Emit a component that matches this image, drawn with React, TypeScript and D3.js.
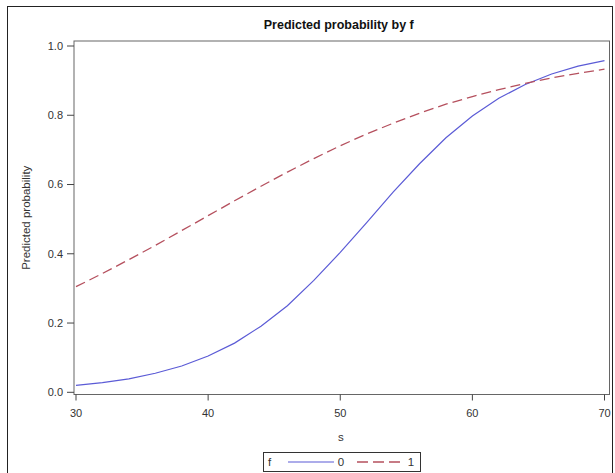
import React from "react";
import * as d3 from "d3";

const sValues = [30, 32, 34, 36, 38, 40, 42, 44, 46, 48, 50, 52, 54, 56, 58, 60, 62, 64, 66, 68, 70];
const probF0 = [0.02, 0.028, 0.039, 0.055, 0.076, 0.105, 0.142, 0.191, 0.25, 0.323, 0.404, 0.49, 0.578, 0.66, 0.735, 0.798, 0.849, 0.889, 0.919, 0.942, 0.958];
const probF1 = [0.305, 0.343, 0.383, 0.424, 0.467, 0.51, 0.553, 0.595, 0.636, 0.675, 0.712, 0.746, 0.777, 0.806, 0.832, 0.854, 0.874, 0.892, 0.908, 0.921, 0.933];
const xTicks = [30, 40, 50, 60, 70];
const yTicks = [0, 0.2, 0.4, 0.6, 0.8, 1.0];
const seriesNames = ["0", "1"];

const W = 615;
const H = 473;
const frame = { left: 74, right: 609.5, top: 41, bottom: 394.5 };
const FONT = "'Liberation Sans', Arial, sans-serif";
const BLUE = "#5b5bd6";
const RED = "#b5505e";

export default function App() {
  const x = d3.scaleLinear().domain([30, 70]).range([76, 604.5]);
  const y = d3.scaleLinear().domain([0, 1]).range([392.3, 46]);
  const line = d3
    .line<[number, number]>()
    .x((d) => x(d[0]))
    .y((d) => y(d[1]));
  const d0 = line(sValues.map((s, i) => [s, probF0[i]] as [number, number])) || "";
  const d1 = line(sValues.map((s, i) => [s, probF1[i]] as [number, number])) || "";
  const fmt = d3.format(".1f");
  const cx = (frame.left + frame.right) / 2;
  const cy = (frame.top + frame.bottom) / 2;

  return (
    <svg
      width={W}
      height={H}
      style={{ position: "absolute", left: 0, top: 0, background: "#fff" }}
    >
      <rect x={0} y={0} width={W} height={H} fill="#fff" />
      {/* outer border */}
      <rect x={7.5} y={6.5} width={605} height={500} fill="none" stroke="#222" strokeWidth={1} />
      {/* title */}
      <text x={cx - 3} y={29} textAnchor="middle" fontFamily={FONT} fontSize={12.5} fontWeight="bold" fill="#111">
        Predicted probability by f
      </text>
      {/* plot frame */}
      <rect
        x={frame.left}
        y={frame.top}
        width={frame.right - frame.left}
        height={frame.bottom - frame.top}
        fill="#fff"
        stroke="#666"
        strokeWidth={1}
      />
      {/* y ticks */}
      {yTicks.map((t) => (
        <g key={"y" + t}>
          <line x1={67} x2={frame.left} y1={y(t)} y2={y(t)} stroke="#444" />
          <text x={63} y={y(t)} dy="0.35em" textAnchor="end" fontFamily={FONT} fontSize={11} fill="#333">
            {fmt(t)}
          </text>
        </g>
      ))}
      {/* x ticks */}
      {xTicks.map((t) => (
        <g key={"x" + t}>
          <line x1={x(t)} x2={x(t)} y1={frame.bottom} y2={frame.bottom + 6} stroke="#444" />
          <text x={x(t)} y={417} textAnchor="middle" fontFamily={FONT} fontSize={11} fill="#333">
            {t}
          </text>
        </g>
      ))}
      {/* axis labels */}
      <text x={cx - 1} y={441} textAnchor="middle" fontFamily={FONT} fontSize={11.5} fill="#333">
        s
      </text>
      <text
        transform={`translate(30, ${cy}) rotate(-90)`}
        textAnchor="middle"
        fontFamily={FONT}
        fontSize={11.5}
        fill="#333"
      >
        Predicted probability
      </text>
      {/* series */}
      <path d={d0} fill="none" stroke={BLUE} strokeWidth={1.2} />
      <path d={d1} fill="none" stroke={RED} strokeWidth={1.3} strokeDasharray="10,5" />
      {/* legend */}
      <g>
        <rect x={263.5} y={452.5} width={157} height={19} fill="#fff" stroke="#333" strokeWidth={1} />
        <text x={268} y={466} fontFamily={FONT} fontSize={11.5} fill="#333">f</text>
        <line x1={288} x2={334} y1={462} y2={462} stroke={BLUE} strokeWidth={1.2} />
        <text x={341} y={466} textAnchor="middle" fontFamily={FONT} fontSize={11.5} fill="#333">
          {seriesNames[0]}
        </text>
        <line x1={357} x2={400} y1={462} y2={462} stroke={RED} strokeWidth={1.3} strokeDasharray="11,5" />
        <text x={411} y={466} textAnchor="middle" fontFamily={FONT} fontSize={11.5} fill="#333">
          {seriesNames[1]}
        </text>
      </g>
    </svg>
  );
}
